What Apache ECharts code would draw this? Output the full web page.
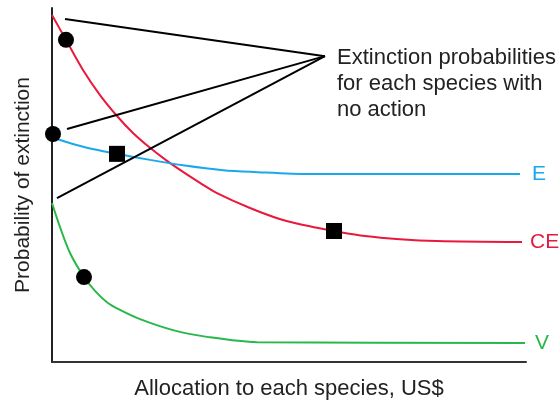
<!DOCTYPE html>
<html>
<head>
<meta charset="utf-8">
<script src="https://cdn.jsdelivr.net/npm/echarts@6/dist/echarts.min.js"></script>
<style>
html,body{margin:0;padding:0;background:#fff;}
#c{width:560px;height:401px;}
</style>
</head>
<body>
<div id="c"></div>
<script>
// Allocation (x, 0-100) vs probability of extinction (y, 0-1)
var ceX = [0, 2.95, 6.54, 10.13, 13.71, 17.09, 20.68, 24.26, 27.64, 31.22, 34.81, 41.77, 48.73, 55.91, 59.49, 66.03, 73.42, 81.22, 99.16];
var ceY = [0.980, 0.910, 0.825, 0.754, 0.695, 0.647, 0.605, 0.568, 0.537, 0.506, 0.477, 0.435, 0.401, 0.379, 0.370, 0.356, 0.347, 0.342, 0.339];
var eX = [0, 1.69, 7.38, 13.71, 20.68, 27.64, 36.08, 42.41, 54.43, 98.73];
var eY = [0.638, 0.627, 0.605, 0.588, 0.571, 0.556, 0.542, 0.537, 0.531, 0.531];
var vX = [0, 1.69, 3.80, 6.75, 9.07, 11.60, 14.35, 18.57, 25.53, 32.70, 43.25, 99.79];
var vY = [0.449, 0.381, 0.308, 0.240, 0.201, 0.169, 0.147, 0.121, 0.090, 0.071, 0.056, 0.054];
// markers
var circles = [[2.95, 0.910], [0.21, 0.644], [6.75, 0.240]];
var squares = [[13.71, 0.588], [59.49, 0.370]];
// annotation lines (tip -> each curve start)
var arrowTip = [57.59, 0.864];
var arrowEnds = [[2.74, 0.969], [3.16, 0.658], [1.05, 0.463]];
var annotation = ['Extinction probabilities', 'for each species with', 'no action'];

function zip(xs, ys){ return xs.map(function(x,i){ return [x, ys[i]]; }); }

var FONT = '"Liberation Sans", Arial, sans-serif';
var chart = echarts.init(document.getElementById('c'));
var series = [];
var curves = [
  {name:'CE', xs:ceX, ys:ceY, color:'#e8193c', d:8},
  {name:'E', xs:eX, ys:eY, color:'#1aa8ec', d:12},
  {name:'V', xs:vX, ys:vY, color:'#28b84a', d:10}
];
curves.forEach(function(c){
  series.push({
    name:c.name, type:'line', data:zip(c.xs,c.ys), smooth:0.3,
    showSymbol:false, symbol:'none', silent:true,
    lineStyle:{color:c.color, width:2},
    endLabel:{show:true, formatter:'{a}', color:c.color, fontSize:21, fontFamily:FONT, distance:c.d},
    z:2
  });
});
arrowEnds.forEach(function(p){
  series.push({type:'line', data:[arrowTip, p], symbol:'none', silent:true,
    lineStyle:{color:'#000', width:2}, z:3});
});
series.push({type:'scatter', data:circles, symbol:'circle', symbolSize:16,
  itemStyle:{color:'#000', opacity:1}, z:5, silent:true});
series.push({type:'scatter', data:squares, symbol:'rect', symbolSize:16,
  itemStyle:{color:'#000', opacity:1}, z:5, silent:true});

chart.setOption({
  animation:false,
  grid:{left:52, right:34, top:8, bottom:39, containLabel:false, outerBoundsMode:'none'},
  xAxis:{type:'value', min:0, max:100,
    name:'Allocation to each species, US$', nameLocation:'middle', nameGap:16,
    nameTextStyle:{fontSize:22, color:'#222', fontFamily:FONT},
    axisLine:{show:true, lineStyle:{color:'#333', width:2}},
    axisTick:{show:false}, axisLabel:{show:false}, splitLine:{show:false}},
  yAxis:{type:'value', min:0, max:1,
    name:'Probability of extinction', nameLocation:'middle', nameGap:18, nameRotate:90,
    nameTextStyle:{fontSize:21, color:'#222', fontFamily:FONT},
    axisLine:{show:true, lineStyle:{color:'#222', width:2}},
    axisTick:{show:false}, axisLabel:{show:false}, splitLine:{show:false}},
  graphic:[{type:'text', left:337, top:45, z:10,
    style:{text:annotation.join('\n'), fill:'#222', font:'22px ' + FONT, lineHeight:26}}],
  series:series
});
</script>
</body>
</html>
